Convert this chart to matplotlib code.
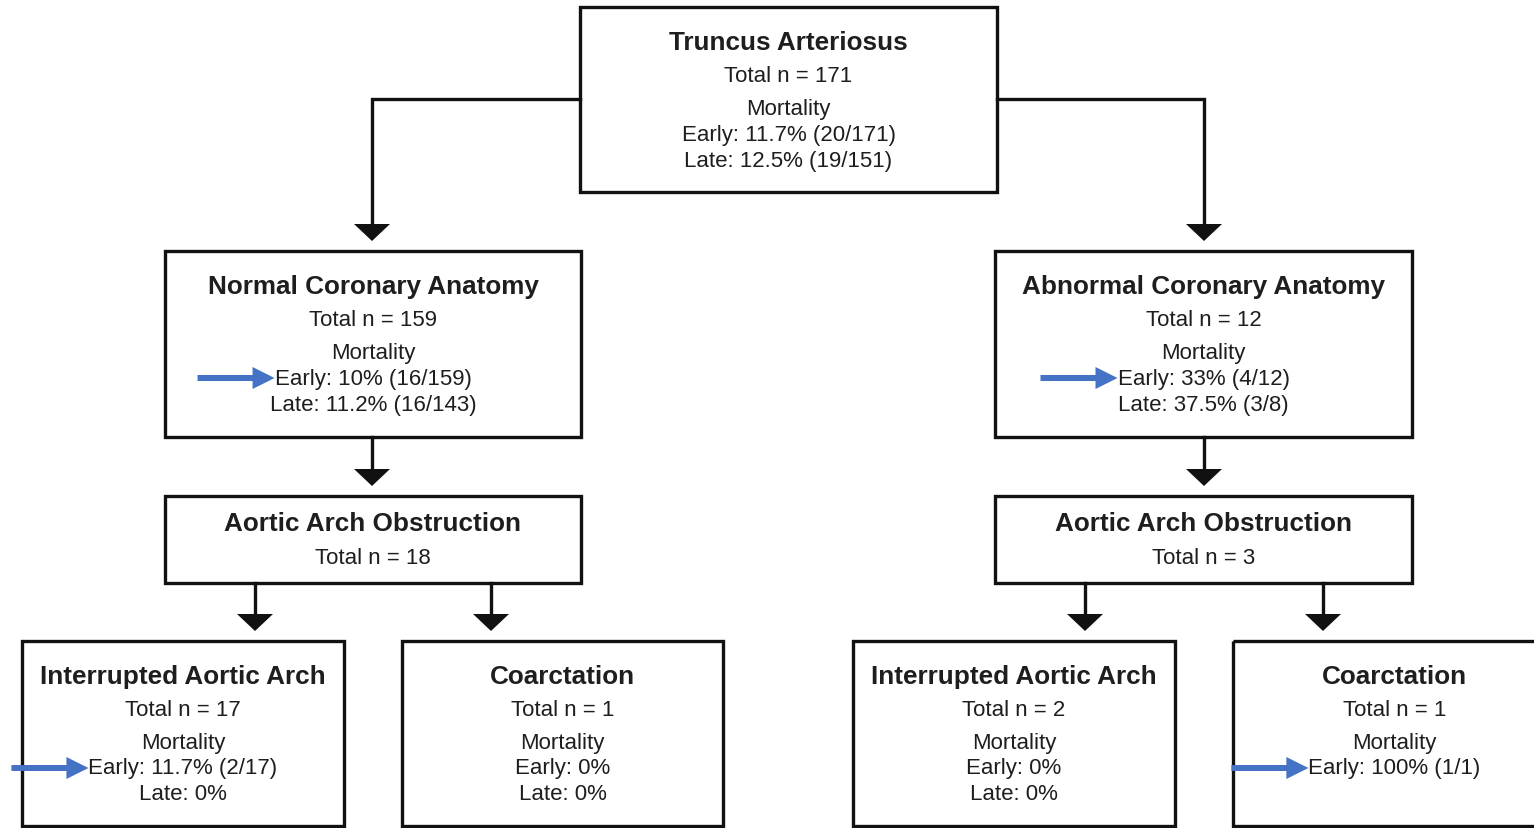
import matplotlib
matplotlib.use('Agg')
import matplotlib.pyplot as plt
from matplotlib.patches import Rectangle, Polygon, FancyArrow

plt.rcParams['font.family'] = ['Liberation Sans', 'DejaVu Sans']

W, H = 1534, 829

# box contents
titles = ['Truncus Arteriosus', 'Normal Coronary Anatomy', 'Abnormal Coronary Anatomy',
          'Aortic Arch Obstruction', 'Aortic Arch Obstruction',
          'Interrupted Aortic Arch', 'Coarctation', 'Interrupted Aortic Arch', 'Coarctation']
totals = [171, 159, 12, 18, 3, 17, 1, 2, 1]
early = ['11.7% (20/171)', '10% (16/159)', '33% (4/12)', None, None,
         '11.7% (2/17)', '0%', '0%', '100% (1/1)']
late = ['12.5% (19/151)', '11.2% (16/143)', '37.5% (3/8)', None, None,
        '0%', '0%', '0%', None]
highlight = [False, True, True, False, False, True, False, False, True]

# layout (pixels): x0, y0, x1, y1
boxes = [(580, 8, 997, 193), (165, 252, 581, 438), (995, 252, 1412, 438),
         (165, 497, 581, 584), (995, 497, 1412, 584),
         (22, 642, 344, 827), (402, 642, 723, 827), (853, 642, 1175, 827), (1233, 642, 1556, 827)]

fig = plt.figure(figsize=(W / 100, H / 100), dpi=100)
ax = fig.add_axes([0, 0, 1, 1])
ax.set_xlim(0, W)
ax.set_ylim(H, 0)
ax.axis('off')

lw = 2.4
txt = '#1e1e1e'
fs_t = 18.8
fs = 16

for i, (x0, y0, x1, y1) in enumerate(boxes):
    ax.add_patch(Rectangle((x0, y0), x1 - x0, y1 - y0, fill=False, lw=lw, ec='#111111', clip_on=False))
    cx = (x0 + x1) / 2
    if early[i] is None:
        ax.text(cx, y0 + 27, titles[i], ha='center', va='center', fontsize=fs_t, fontweight='bold', color=txt)
        ax.text(cx, y0 + 61, 'Total n = %d' % totals[i], ha='center', va='center', fontsize=fs, color=txt)
        continue
    ax.text(cx, y0 + 35, titles[i], ha='center', va='center', fontsize=fs_t, fontweight='bold', color=txt)
    ax.text(cx, y0 + 68, 'Total n = %d' % totals[i], ha='center', va='center', fontsize=fs, color=txt)
    ax.text(cx, y0 + 101, 'Mortality', ha='center', va='center', fontsize=fs, color=txt)
    e = ax.text(cx, y0 + 127, 'Early: ' + early[i], ha='center', va='center', fontsize=fs, color=txt)
    if late[i] is not None:
        ax.text(cx, y0 + 153, 'Late: ' + late[i], ha='center', va='center', fontsize=fs, color=txt)
    if highlight[i]:
        fig.canvas.draw()
        bb = e.get_window_extent()
        xe = bb.x0
        ax.add_patch(FancyArrow(xe - 77, y0 + 127, 77, 0, width=6, head_width=22, head_length=22,
                                length_includes_head=True, color='#4472c4', lw=0))


def arrow_head(x, tip, size=18, height=17):
    ax.add_patch(Polygon([(x - size, tip - height), (x + size, tip - height), (x, tip)],
                         closed=True, color='#111111', lw=0))


# top-level elbow connectors
ax.plot([580, 372, 372], [100, 100, 228], color='#111111', lw=lw, solid_joinstyle='miter')
ax.plot([997, 1204, 1204], [100, 100, 228], color='#111111', lw=lw, solid_joinstyle='miter')
arrow_head(372, 242)
arrow_head(1204, 242)

# middle arrows
for x in [372, 1204]:
    ax.plot([x, x], [438, 473], color='#111111', lw=lw)
    arrow_head(x, 487)

# bottom arrows
for x in [255, 491, 1085, 1323]:
    ax.plot([x, x], [584, 618], color='#111111', lw=lw)
    arrow_head(x, 632)

fig.savefig('out.png', dpi=100, facecolor='white')
